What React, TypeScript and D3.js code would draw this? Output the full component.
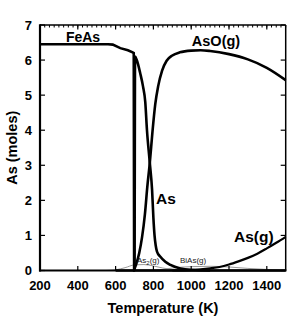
import React from 'react';
import * as d3 from 'd3';

// temperature (K), moles
const feAs = [[200, 6.45], [560, 6.45], [585, 6.44], [625, 6.34], [665, 6.28], [690, 6.22], [696, 6.2], [698, 0], [1500, 0]];
const asCond = [[600, 0], [700, 0], [703, 6.1], [712, 6.0], [730, 5.63], [745, 5.25], [757, 4.8], [766, 4.0], [781, 3.07], [793, 2.3], [800, 1.5], [806, 1.0], [812, 0.72], [819, 0.54], [837, 0.39], [863, 0.25], [890, 0.16], [943, 0.06], [1000, 0.02], [1100, 0]];
const asoG = [[700, 0.05], [710, 0.2], [725, 0.5], [740, 0.95], [755, 1.6], [768, 2.4], [781, 3.07], [795, 3.95], [810, 4.75], [825, 5.25], [846, 5.7], [870, 5.98], [900, 6.13], [940, 6.22], [1000, 6.27], [1050, 6.28], [1100, 6.26], [1200, 6.17], [1300, 6.02], [1400, 5.78], [1500, 5.43]];
const asG = [[900, 0], [1000, 0.01], [1050, 0.03], [1100, 0.06], [1150, 0.1], [1200, 0.17], [1250, 0.26], [1300, 0.36], [1350, 0.48], [1400, 0.63], [1450, 0.79], [1500, 0.96]];
const as2G = [[550, 0], [600, 0.02], [650, 0.08], [700, 0.16], [750, 0.17], [800, 0.13], [850, 0.07], [900, 0.03], [950, 0.01], [1000, 0]];
const biAsG = [[800, 0], [850, 0.03], [900, 0.07], [1000, 0.11], [1100, 0.12], [1200, 0.1], [1300, 0.06], [1400, 0.03], [1500, 0.01]];

const xTicks = [200, 400, 600, 800, 1000, 1200, 1400];
const yTicks = [0, 1, 2, 3, 4, 5, 6, 7];

const font = "'Liberation Sans', Arial, sans-serif";

export default function App() {
  const left = 40, right = 285.7, top = 25, bottom = 270.5;
  const x = d3.scaleLinear().domain([200, 1500]).range([left, right]);
  const y = d3.scaleLinear().domain([0, 7]).range([bottom, top]);

  const smooth = d3.line<number[]>().x(d => x(d[0])).y(d => y(d[1])).curve(d3.curveMonotoneX);
  const straight = d3.line<number[]>().x(d => x(d[0])).y(d => y(d[1]));

  const minor = d3.range(200, 1501, 25);

  return (
    <svg width={299} height={319} style={{ position: 'absolute', left: 0, top: 0, background: '#fff' }}>
      {/* thin gray species */}
      <path d={smooth(as2G)!} fill="none" stroke="#999" strokeWidth={1} />
      <path d={smooth(biAsG)!} fill="none" stroke="#999" strokeWidth={1} />

      {/* main curves */}
      <path d={straight(feAs)!} fill="none" stroke="#000" strokeWidth={2.6} />
      <path d={smooth(asCond)!} fill="none" stroke="#000" strokeWidth={2.6} />
      <path d={smooth(asoG)!} fill="none" stroke="#000" strokeWidth={2.6} />
      <path d={smooth(asG)!} fill="none" stroke="#000" strokeWidth={2.2} />

      {/* frame */}
      <line x1={left} x2={right} y1={top} y2={top} stroke="#000" strokeWidth={1.5} />
      <line x1={right} x2={right} y1={top} y2={bottom} stroke="#000" strokeWidth={1.5} />
      <line x1={left} x2={left} y1={top - 0.75} y2={bottom + 1} stroke="#000" strokeWidth={2.2} />
      <line x1={left - 1} x2={right + 0.75} y1={bottom} y2={bottom} stroke="#000" strokeWidth={2.2} />

      {/* minor ticks on top */}
      {minor.map(t => (
        <line key={'m' + t} x1={x(t)} x2={x(t)} y1={top} y2={top + 2.5} stroke="#000" strokeWidth={1} />
      ))}
      {xTicks.map(t => (
        <g key={'x' + t}>
          <line x1={x(t)} x2={x(t)} y1={bottom} y2={bottom - 4.5} stroke="#000" strokeWidth={1.2} />
          <line x1={x(t)} x2={x(t)} y1={top} y2={top + 4.5} stroke="#000" strokeWidth={1.2} />
          <text x={x(t)} y={bottom + 19} textAnchor="middle" fontFamily={font} fontWeight="bold" fontSize={13}>{t}</text>
        </g>
      ))}
      {yTicks.map(t => (
        <g key={'y' + t}>
          <line x1={left} x2={left + 5} y1={y(t)} y2={y(t)} stroke="#000" strokeWidth={1.2} />
          <line x1={right} x2={right - 5} y1={y(t)} y2={y(t)} stroke="#000" strokeWidth={1.2} />
          <text x={left - 8} y={y(t) + 4.5} textAnchor="end" fontFamily={font} fontWeight="bold" fontSize={13}>{t}</text>
        </g>
      ))}

      {/* axis titles */}
      <text x={163} y={313} textAnchor="middle" fontFamily={font} fontWeight="bold" fontSize={14.5}>Temperature (K)</text>
      <text transform={`translate(17,${(top + bottom) / 2}) rotate(-90)`} textAnchor="middle" fontFamily={font} fontWeight="bold" fontSize={14.5}>As (moles)</text>

      {/* curve labels */}
      <text x={83} y={42} textAnchor="middle" fontFamily={font} fontWeight="bold" fontSize={14}>FeAs</text>
      <text x={216} y={46} textAnchor="middle" fontFamily={font} fontWeight="bold" fontSize={14.5}>AsO(g)</text>
      <text x={156} y={203.5} fontFamily={font} fontWeight="bold" fontSize={15.5}>As</text>
      <text x={234} y={242} fontFamily={font} fontWeight="bold" fontSize={15.5}>As(g)</text>
      <text x={137} y={263} fontFamily={font} fontSize={8} fill="#222">
        As<tspan fontSize={6} dy={2}>2</tspan><tspan dy={-2}>(g)</tspan>
      </text>
      <text x={180} y={263} fontFamily={font} fontSize={8} fill="#222">BiAs(g)</text>
    </svg>
  );
}
